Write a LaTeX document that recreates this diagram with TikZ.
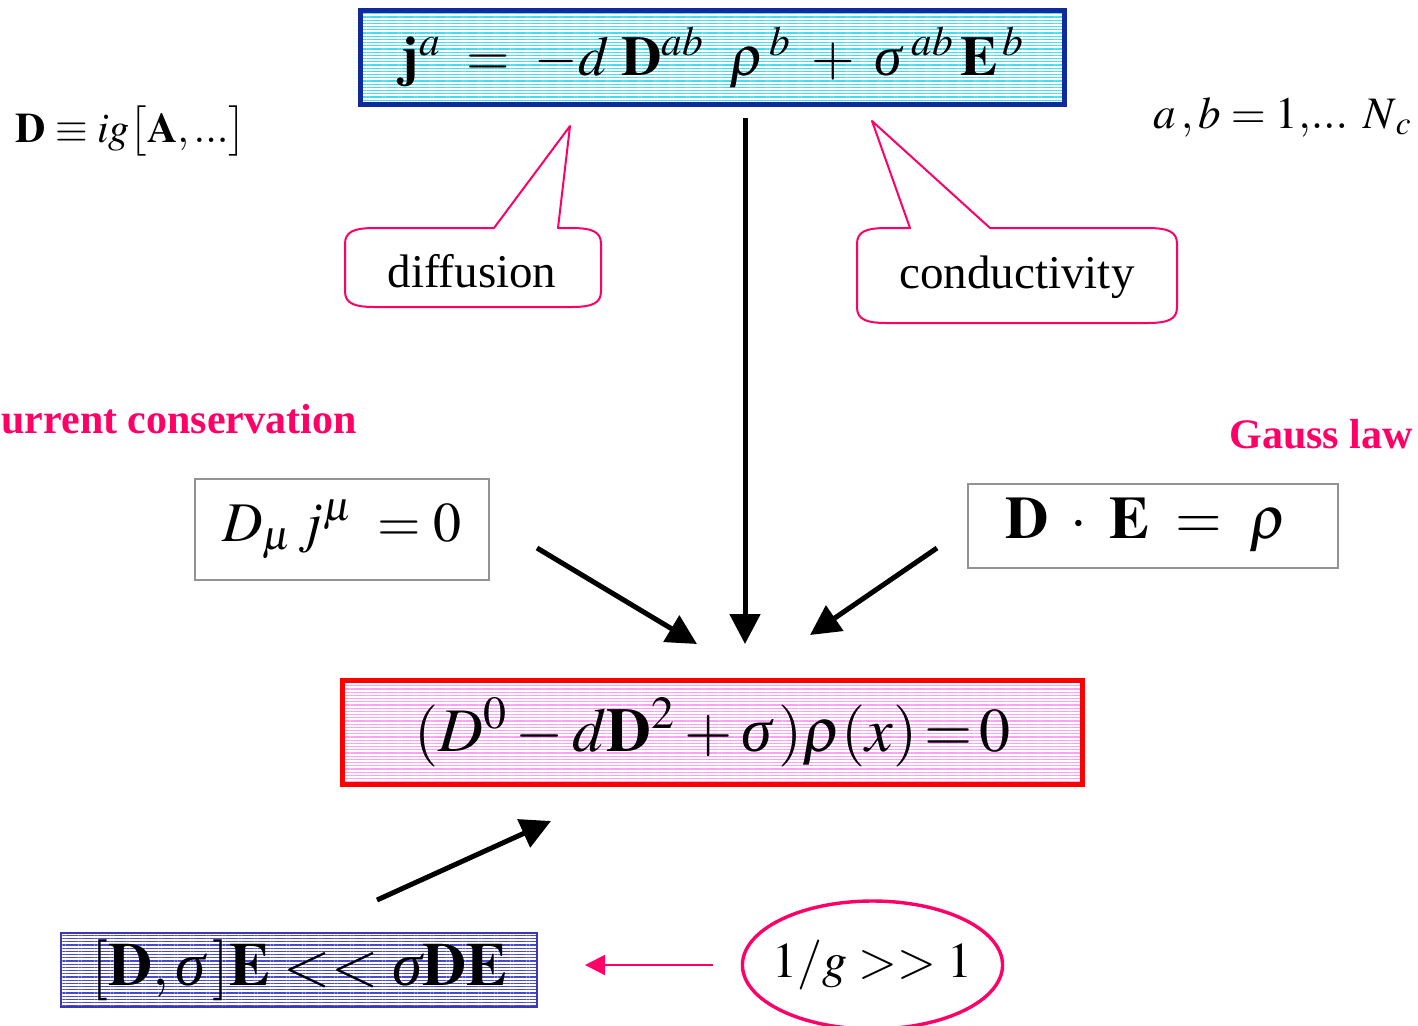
\documentclass[tikz,border=0pt]{standalone}
\usepackage{mathptmx}
\usepackage{fontspec}
\setmainfont{Liberation Serif}
\usepackage{tikz}
\usetikzlibrary{positioning,arrows.meta,shapes.geometric,patterns.meta}
\definecolor{lawpink}{HTML}{FF0066}
\definecolor{boxnavy}{HTML}{0F2A9C}
\definecolor{linecyan}{HTML}{40DDF0}
\definecolor{linepink}{HTML}{FF9CF5}
\definecolor{lineblue}{HTML}{4A4AD0}
\definecolor{edgeblue}{HTML}{3838B8}
\newcommand{\sig}{\mbox{\itshape σ}}

\begin{document}
\begin{tikzpicture}[
  x=0.5pt, y=-0.5pt,
  every node/.style={inner sep=0pt},
  stripes/.style={pattern={Lines[angle=0,distance=1.6pt,line width=0.6pt]}},
  currbox/.style={draw=boxnavy, line width=2.5pt, stripes, pattern color=linecyan,
    minimum width=352pt, minimum height=47pt, font=\fontsize{28}{32}\selectfont},
  mainbox/.style={draw=red, line width=2.5pt, stripes, pattern color=linepink,
    minimum width=370pt, minimum height=52pt, font=\fontsize{31}{35}\selectfont},
  lawbox/.style={draw=gray!85, line width=1pt, font=\fontsize{28}{32}\selectfont},
  condbox/.style={draw=edgeblue, line width=1pt, stripes, pattern color=lineblue,
    minimum width=238pt, minimum height=37pt, font=\fontsize{30.5}{34}\selectfont},
  couplingoval/.style={ellipse, draw=lawpink, line width=1.7pt, inner xsep=-4pt,
    minimum width=128pt, minimum height=64pt, font=\fontsize{25}{29}\selectfont},
  callout/.style={draw=lawpink, line width=1pt, line join=round},
  calltext/.style={font=\fontsize{23.5}{28}\selectfont},
  lawlabel/.style={text=lawpink, font=\bfseries\fontsize{21}{25}\selectfont},
  note/.style={font=\fontsize{21}{25}\selectfont},
  arr/.style={-{Triangle[length=15pt,width=15pt]}, line width=2.5pt},
  pinkarr/.style={-{Triangle[length=10pt,width=10pt]}, line width=1pt, draw=lawpink, fill=lawpink}
]
\clip (0,0) rectangle (1418,1025);

% equations
\node[currbox] (current) at (712.5,57.5)
  {$\mathbf{j}^{a}\;=\;-d\;\mathbf{D}^{ab}\;\;\rho^{\,b}\;+\;\sig^{\;ab}\,\mathbf{E}^{\,b}$};
\node[mainbox] (master) at (712.5,732.5)
  {$(D^{0}-d\mathbf{D}^{2}+\sig\,)\rho(x)\mathrel{\!=\!}0$};
\node[lawbox, minimum width=147pt, minimum height=50.5pt] (conserv) at (342,529.5)
  {$D_{\mu}\,j^{\mu}\;=0$};
\node[lawbox, minimum width=185pt, minimum height=42pt, font=\fontsize{30}{34}\selectfont] (gauss) at (1153,525.5)
  {$\mathbf{D}\;\cdot\;\mathbf{E}\;=\;\rho\;$};
\node[condbox] (commut) at (299,970)
  {$[\mathbf{D},\sig\,]\mathbf{E}<<\sig\mathbf{DE}$};
\node[couplingoval] (coupling) at (872.5,965) {$1/g>>1$};

% side notes
\node[note, anchor=base west] (covder) at (15,142)
  {$\mathbf{D}\equiv ig\bigl[\mathbf{A},...\bigr]$};
\node[note, anchor=base west, font=\fontsize{22.5}{27}\selectfont] (colours) at (1153,128)
  {$a\,,b=1{,}...\;\,N_{\,c}$};
\node[lawlabel, anchor=base east] (conslabel) at (357,433) {Current conservation};
\node[lawlabel, anchor=base east] (gausslabel) at (1413,448) {Gauss law};

% callouts
\draw[callout] (494,228) -- (570,126) -- (558,228) -- (571,228)
  .. controls (593,228) and (601,232) .. (601,244) -- (601,291)
  .. controls (601,303) and (593,307) .. (571,307) -- (375,307)
  .. controls (353,307) and (345,303) .. (345,291) -- (345,244)
  .. controls (345,232) and (353,228) .. (375,228) -- cycle;
\node[calltext, anchor=base] (diffusion) at (472,287) {diffusion};
\draw[callout] (910,228) -- (872,121) -- (990,228) -- (1147,228)
  .. controls (1169,228) and (1177,232) .. (1177,244) -- (1177,307)
  .. controls (1177,319) and (1169,323) .. (1147,323) -- (887,323)
  .. controls (865,323) and (857,319) .. (857,307) -- (857,244)
  .. controls (857,232) and (865,228) .. (887,228) -- cycle;
\node[calltext, anchor=base] (conductivity) at (1017,288) {conductivity};

% arrows
\coordinate (vstart) at (745,118);
\coordinate (vtip) at (745,644);
\coordinate (lstart) at (537,548);
\coordinate (ltip) at (697,644);
\coordinate (rstart) at (937,548);
\coordinate (rtip) at (810,635);
\coordinate (bstart) at (377,900);
\coordinate (btip) at (551,821);
\coordinate (pstart) at (713,965);
\coordinate (ptip) at (585,965);
\draw[arr] (vstart) -- (vtip);
\draw[arr] (lstart) -- (ltip);
\draw[arr] (rstart) -- (rtip);
\draw[arr] (bstart) -- (btip);
\draw[pinkarr] (pstart) -- (ptip);
\end{tikzpicture}
\end{document}
